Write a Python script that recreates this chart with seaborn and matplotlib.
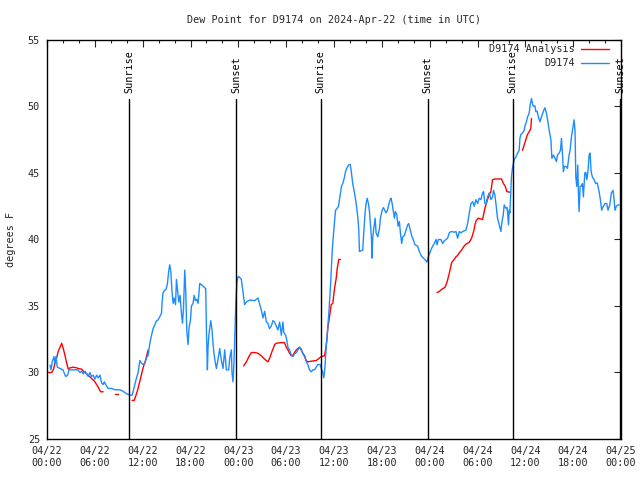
import numpy as np
import pandas as pd
import matplotlib
matplotlib.use("Agg")
import matplotlib.pyplot as plt
import matplotlib.dates as mdates
from matplotlib.lines import Line2D
import seaborn as sns

# ---- data (hours after 2024-04-22 00:00 UTC, dew point degF) ----
blue_hours = [0.38, 0.50, 0.66, 0.88, 1.00, 1.13, 1.29, 1.63, 2.00, 2.34, 2.59, 2.75, 3.88, 4.13, 4.35, 4.55,
              4.76, 4.97, 5.17, 5.38, 5.60, 5.80, 6.01, 6.22, 6.42, 6.64, 6.85, 7.05, 7.18, 7.35, 7.68, 8.10,
              8.52, 9.14, 9.52, 9.98, 10.39, 10.68, 10.93, 11.23, 11.43, 11.65, 11.86, 12.06, 12.27, 12.48,
              12.69, 12.90, 13.11, 13.31, 13.52, 13.74, 13.94, 14.36, 14.44, 14.56, 14.78, 14.94, 15.11, 15.28,
              15.40, 15.53, 15.69, 15.82, 15.94, 16.12, 16.24, 16.37, 16.53, 16.69, 16.87, 16.99, 17.12, 17.28,
              17.41, 17.53, 17.69, 17.82, 17.99, 18.12, 18.32, 18.45, 18.62, 18.78, 18.95, 19.16, 19.57, 19.91,
              20.00, 20.12, 20.20, 20.32, 20.54, 20.70, 20.82, 20.95, 21.12, 21.25, 21.45, 21.66, 21.88, 22.08,
              22.29, 22.50, 22.79, 22.95, 23.13, 23.20, 23.33, 23.45, 23.58, 23.70, 23.83, 23.96, 24.08, 24.38,
              24.58, 24.79, 25.01, 25.42, 26.05, 26.46, 26.88, 27.09, 27.30, 27.51, 27.71, 27.92, 28.14, 28.34,
              28.55, 28.76, 28.96, 29.18, 29.39, 29.59, 29.71, 29.93, 30.09, 30.22, 30.43, 30.64, 30.84, 31.05,
              31.27, 31.47, 31.68, 31.89, 32.09, 32.31, 32.52, 32.72, 32.93, 33.15, 33.35, 33.56, 33.77, 33.97,
              34.27, 34.40, 34.60, 34.72, 34.85, 35.02, 35.22, 35.35, 35.56, 35.73, 35.85, 35.98, 36.10, 36.19,
              36.35, 36.56, 36.69, 36.81, 36.94, 37.10, 37.32, 37.44, 37.60, 37.82, 38.03, 38.15, 38.35, 38.57,
              38.78, 38.98, 39.11, 39.19, 39.61, 39.73, 39.91, 40.03, 40.16, 40.32, 40.45, 40.57, 40.70, 40.78,
              40.86, 40.98, 41.16, 41.28, 41.49, 41.70, 41.82, 42.04, 42.20, 42.54, 42.70, 42.82, 43.04, 43.16,
              43.29, 43.45, 43.58, 43.70, 43.86, 44.04, 44.20, 44.33, 44.49, 44.62, 44.83, 45.04, 45.24, 45.37,
              45.54, 45.74, 45.96, 46.17, 46.49, 46.71, 46.92, 47.21, 47.46, 47.67, 47.83, 48.08, 48.37, 48.58,
              48.80, 48.92, 49.09, 49.42, 49.62, 49.84, 50.05, 50.25, 50.46, 50.68, 51.09, 51.30, 51.50, 51.72,
              51.93, 52.13, 52.55, 52.76, 52.97, 53.18, 53.39, 53.59, 53.81, 54.01, 54.22, 54.43, 54.63, 54.76,
              54.93, 55.10, 55.26, 55.47, 55.68, 55.88, 56.01, 56.18, 56.35, 56.51, 56.72, 56.94, 57.06, 57.22,
              57.35, 57.56, 57.72, 57.89, 57.98, 58.06, 58.18, 58.26, 58.38, 58.60, 58.81, 59.02, 59.23, 59.32,
              59.44, 59.64, 59.85, 59.98, 60.14, 60.27, 60.48, 60.60, 60.77, 60.90, 61.02, 61.20, 61.32, 61.48,
              61.65, 61.82, 62.02, 62.24, 62.45, 62.65, 62.83, 62.99, 63.21, 63.33, 63.53, 63.74, 63.90, 64.03,
              64.24, 64.40, 64.53, 64.65, 64.78, 64.90, 65.08, 65.28, 65.49, 65.61, 65.78, 65.95, 66.12, 66.24,
              66.33, 66.45, 66.58, 66.65, 66.74, 66.87, 67.03, 67.16, 67.28, 67.46, 67.58, 67.71, 67.87, 68.00,
              68.12, 68.25, 68.41, 68.62, 68.83, 69.03, 69.25, 69.41, 69.58, 69.78, 70.00, 70.21, 70.37, 70.59,
              70.79, 71.01, 71.13, 71.25, 71.41, 71.62, 71.75]
blue_values = [30.56, 30.2, 30.8, 31.2, 30.7, 31.2, 30.4, 30.3, 30.2, 29.7, 29.8, 30.2, 30.2, 30.0, 30.1, 29.9,
               30.1, 29.9, 29.7, 30.0, 29.7, 29.8, 29.5, 29.8, 29.6, 29.8, 29.2, 29.1, 29.3, 29.1, 28.8, 28.8,
               28.7, 28.7, 28.6, 28.4, 28.3, 28.3, 28.9, 29.6, 30.0, 30.9, 30.7, 30.6, 30.7, 31.1,
               31.3, 32.2, 32.8, 33.3, 33.6, 33.9, 33.95, 34.45, 35.3, 36.0, 36.2, 36.25, 36.7, 37.7,
               38.1, 37.6, 36.0, 35.2, 35.6, 35.1, 37.0, 36.2, 35.3, 35.8, 34.4, 33.7, 34.8, 37.7,
               36.0, 33.2, 32.1, 33.4, 33.9, 35.0, 35.2, 35.8, 35.4, 35.5, 35.2, 36.7, 36.5, 36.3,
               33.2, 30.2, 31.9, 32.9, 33.9, 33.2, 32.2, 31.4, 30.7, 30.3, 31.0, 31.8, 30.9, 30.3,
               31.7, 30.2, 30.2, 31.2, 31.7, 30.0, 29.3, 30.7, 33.2, 35.5, 36.8, 37.2, 37.2, 37.0,
               36.1, 35.1, 35.3, 35.45, 35.4, 35.6, 34.7, 34.1, 34.6, 33.8, 33.7, 33.3, 33.5, 33.9,
               33.8, 33.5, 33.2, 33.8, 32.8, 33.8, 33.0, 32.8, 32.4, 31.9, 31.7, 31.3, 31.2, 31.4,
               31.5, 31.7, 31.9, 31.75, 31.4, 31.3, 30.8, 30.6, 30.2, 30.05, 30.2, 30.2, 30.4, 30.6,
               30.6, 30.3, 30.0, 29.6, 30.3, 31.9, 33.45, 34.45, 36.5, 38.6, 39.8, 40.7, 41.5, 42.2,
               42.3, 42.5, 43.0, 43.5, 44.0, 44.2, 44.7, 45.1, 45.35, 45.6, 45.65, 45.2, 44.2, 43.5,
               42.7, 41.7, 40.7, 39.1, 39.2, 40.5, 42.1, 42.7, 43.1, 42.7, 42.1, 41.1, 40.1, 38.6,
               40.1, 40.8, 41.6, 40.5, 40.2, 40.8, 41.6, 42.2, 42.4, 42.0, 42.2, 42.5, 43.0, 43.1,
               42.7, 42.1, 41.6, 42.1, 41.9, 41.0, 41.35, 40.5, 39.7, 40.2, 40.3, 40.7, 41.1, 41.2,
               40.8, 40.3, 39.95, 39.6, 39.5, 39.1, 38.8, 38.6, 38.45, 38.3, 38.7, 39.1, 39.5, 39.7,
               40.0, 39.6, 40.0, 40.0, 39.7, 39.9, 40.0, 40.1, 40.5, 40.6, 40.55, 40.6, 40.1, 40.6,
               40.5, 40.6, 40.7, 41.2, 42.0, 42.7, 42.85, 42.5, 43.0, 42.7, 43.1, 43.0, 43.5, 43.6,
               42.7, 42.7, 43.2, 43.5, 43.0, 43.2, 43.7, 43.35, 42.5, 41.6, 41.1, 40.6, 41.3, 41.8,
               42.6, 42.35, 42.4, 41.1, 42.2, 42.0, 43.7, 44.7, 45.35, 46.0, 46.2, 46.5, 46.7, 47.6,
               47.9, 48.0, 48.2, 48.6, 48.85, 49.2, 49.5, 50.1, 50.6, 50.2, 50.0, 50.05, 49.6, 49.65,
               49.2, 48.85, 49.2, 49.6, 49.9, 49.5, 48.85, 48.2, 47.5, 46.1, 46.35, 46.1, 45.85, 46.35,
               46.5, 46.7, 47.6, 46.5, 45.1, 45.5, 45.5, 45.35, 46.35, 46.7, 47.7, 48.35, 49.0, 48.1,
               44.7, 44.0, 45.6, 43.6, 42.1, 44.0, 44.0, 44.2, 43.2, 45.0, 45.05, 44.5, 45.2, 46.35,
               46.5, 45.1, 44.7, 44.5, 44.2, 44.25, 43.6, 43.0, 42.2, 42.5, 42.7, 42.7, 42.2, 42.6,
               43.5, 43.7, 43.0, 42.2, 42.5, 42.6, 42.6]

# analysis series, in separate segments where the line has gaps
red_segment_lengths = [25, 2, 11, 47, 33, 7]
red_hours = [0.00, 0.59, 0.79, 1.00, 1.21, 1.41, 1.63, 1.84, 2.04, 2.25, 2.47, 2.67, 2.88, 3.29, 3.72, 3.92,
             4.35, 4.55, 4.76, 5.17, 5.60, 6.01, 6.42, 6.72, 7.05,
             8.52, 8.85,
             10.68, 10.93, 11.11, 11.31, 11.52, 11.73, 11.93, 12.15, 12.36, 12.52, 12.69,
             24.67, 25.01, 25.33, 25.63, 26.05, 26.46, 26.88, 27.30, 27.71, 27.92, 28.14, 28.34, 28.55, 28.76,
             29.39, 29.80, 30.01, 30.22, 30.43, 30.64, 30.84, 31.05, 31.27, 31.47, 31.68, 31.89, 32.09, 32.31,
             32.52, 32.72, 33.15, 33.77, 34.10, 34.40, 34.81, 34.94, 35.10, 35.22, 35.44, 35.65, 35.85, 35.94,
             36.10, 36.28, 36.40, 36.60, 36.81,
             48.92, 49.21, 49.62, 49.92, 50.18, 50.46, 50.75, 51.00, 51.30, 51.50, 51.72, 52.00, 52.25, 52.55,
             52.97, 53.26, 53.51, 53.68, 53.81, 54.09, 54.63, 54.93, 55.10, 55.26, 55.47, 55.68, 55.88, 56.18,
             57.01, 57.26, 57.48, 57.69, 58.10,
             59.64, 59.85, 60.06, 60.27, 60.48, 60.69, 60.77]
red_values = [30.0, 30.0, 30.2, 30.7, 31.1, 31.6, 31.9, 32.2, 31.8, 31.3, 30.7, 30.25, 30.35, 30.4, 30.35, 30.3,
              30.25, 30.1, 30.0, 29.8, 29.55, 29.3, 28.9, 28.55, 28.55,
              28.4, 28.4,
              27.9, 27.9, 28.2, 28.55, 29.05, 29.55, 30.05, 30.55, 30.9, 31.3, 31.7,
              30.5, 30.8, 31.2, 31.5, 31.5, 31.45, 31.25, 31.0, 30.8, 31.05, 31.45, 31.75, 32.1, 32.2,
              32.25, 32.25, 31.9, 31.7, 31.45, 31.25, 31.3, 31.5, 31.7, 31.8, 31.9, 31.7, 31.45, 31.2,
              30.9, 30.8, 30.85, 30.9, 31.05, 31.2, 31.25, 31.7, 32.4, 33.3, 34.2, 35.1, 35.2, 35.7,
              36.45, 37.1, 37.8, 38.5, 38.5,
              36.0, 36.1, 36.3, 36.4, 36.8, 37.45, 38.25, 38.45, 38.7, 38.8, 39.0, 39.2, 39.45, 39.65,
              39.8, 40.1, 40.6, 41.1, 41.4, 41.6, 41.5, 42.35, 42.7, 43.0, 43.35, 43.6, 44.5, 44.55,
              44.55, 44.2, 44.0, 43.6, 43.55,
              46.7, 47.1, 47.5, 47.9, 48.1, 48.35, 49.1]

event_labels = ["Sunrise", "Sunset", "Sunrise", "Sunset", "Sunrise", "Sunset"]
event_hours = [10.28, 23.70, 34.33, 47.75, 58.40, 71.92]

start = pd.Timestamp("2024-04-22 00:00")
blue_df = pd.DataFrame({"time": start + pd.to_timedelta(blue_hours, unit="h"), "dewpoint": blue_values})
red_df = pd.DataFrame({"time": start + pd.to_timedelta(red_hours, unit="h"), "dewpoint": red_values,
                       "seg": np.repeat(np.arange(len(red_segment_lengths)), red_segment_lengths)})

sns.set_style("white")
plt.rcParams["font.family"] = ["DejaVu Sans Mono"]
FS = 7.3
plt.rcParams["font.size"] = FS

RED = "#ff0000"
BLUE = "#1e8cff"

fig = plt.figure(figsize=(6.4, 4.8), dpi=100)
ax = fig.add_axes([47 / 640, 1 - 439 / 480, (621 - 47) / 640, (439 - 40) / 480])

sns.lineplot(data=red_df, x="time", y="dewpoint", units="seg", estimator=None, color=RED,
             linewidth=1.0, ax=ax, legend=False)
sns.lineplot(data=blue_df, x="time", y="dewpoint", estimator=None, color=BLUE,
             linewidth=1.0, ax=ax, legend=False)

for lbl, h in zip(event_labels, event_hours):
    t = start + pd.Timedelta(hours=h)
    ax.plot([t, t], [25, 50.55], color="black", linewidth=1.0, zorder=5)
    ax.text(t, 51.0, lbl, rotation=90, ha="center", va="bottom", fontsize=FS, color="black")

ax.set_xlim(start, start + pd.Timedelta(hours=72))
ax.set_ylim(25, 55)
ax.set_yticks(np.arange(25, 56, 5))
ax.xaxis.set_major_locator(mdates.HourLocator(byhour=range(0, 24, 6)))
ax.xaxis.set_minor_locator(mdates.HourLocator(byhour=range(0, 24, 2)))
ax.xaxis.set_major_formatter(mdates.DateFormatter("%m/%d\n%H:%M"))
ax.tick_params(axis="both", which="major", direction="in", length=5, width=0.8,
               top=True, right=True, labelsize=FS, pad=5)
ax.tick_params(axis="x", which="minor", direction="in", length=2.5, width=0.8, top=True)
for s in ax.spines.values():
    s.set_color("black")
    s.set_linewidth(1.0)

ax.set_xlabel("")
ax.set_ylabel("degrees F", fontsize=FS)
ax.yaxis.set_label_coords(-31 / 574, 0.5)
ax.set_title("Dew Point for D9174 on 2024-Apr-22 (time in UTC)", fontsize=FS, pad=12)

handles = [Line2D([], [], color=RED, linewidth=1.0), Line2D([], [], color=BLUE, linewidth=1.0)]
ax.legend(handles, ["D9174 Analysis", "D9174"], loc="upper right", frameon=False, markerfirst=False,
          fontsize=FS, handlelength=2.8, handletextpad=0.6, borderaxespad=0.0, labelspacing=0.4,
          bbox_to_anchor=(0.987, 1.0))

fig.savefig("out.png", dpi=100, facecolor="white")
